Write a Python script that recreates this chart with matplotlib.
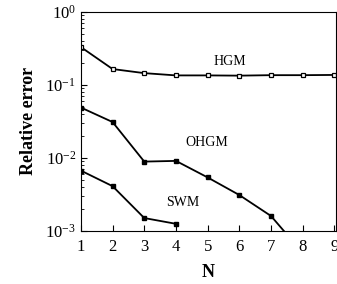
import matplotlib
matplotlib.use("Agg")
import matplotlib.pyplot as plt
from matplotlib.ticker import LogLocator, NullFormatter

# values
n_hgm = [1, 2, 3, 4, 5, 6, 7, 8, 9]
hgm = [0.33, 0.165, 0.145, 0.135, 0.135, 0.134, 0.136, 0.136, 0.137]
n_ohgm = [1, 2, 3, 4, 5, 6, 7, 8]
ohgm = [0.049, 0.031, 0.0089, 0.0091, 0.0054, 0.0031, 0.0016, 0.0005]
n_swm = [1, 2, 3, 4]
swm = [0.0067, 0.0041, 0.0015, 0.00125]
xticks = [1, 2, 3, 4, 5, 6, 7, 8, 9]

plt.rcParams["font.family"] = ["Liberation Serif", "DejaVu Serif"]
plt.rcParams["mathtext.fontset"] = "stix"

fig = plt.figure(figsize=(3.37, 2.84), dpi=100)
ax = fig.add_axes([0.240, 0.187, 0.757, 0.771])

ax.plot(n_hgm, hgm, color="black", lw=1.3, marker="s", ms=3.2,
        mfc="white", mec="black", mew=0.9)
ax.plot(n_ohgm, ohgm, color="black", lw=1.3, marker="s", ms=2.8)
ax.plot(n_swm, swm, color="black", lw=1.3, marker="s", ms=2.8)

ax.set_yscale("log")
ax.set_ylim(1e-3, 1)
ax.set_xlim(1, 9.05)
ax.set_xticks(xticks)
ax.yaxis.set_major_locator(LogLocator(base=10, numticks=5))
ax.yaxis.set_minor_locator(LogLocator(base=10, subs=range(2, 10), numticks=20))
ax.yaxis.set_minor_formatter(NullFormatter())
ax.tick_params(which="both", direction="in", labelsize=12)
ax.tick_params(axis="x", pad=6)
ax.tick_params(which="major", length=4)
ax.tick_params(which="minor", length=2)

ax.text(5.2, 0.19, "HGM", fontsize=10)
ax.text(4.3, 0.0145, "OHGM", fontsize=10)
ax.text(3.7, 0.0022, "SWM", fontsize=10)

ax.set_xlabel("N", fontsize=13, fontweight="bold", labelpad=6)
ax.set_ylabel("Relative error", fontsize=13, fontweight="bold", labelpad=6)

fig.savefig("out.png", dpi=100)
